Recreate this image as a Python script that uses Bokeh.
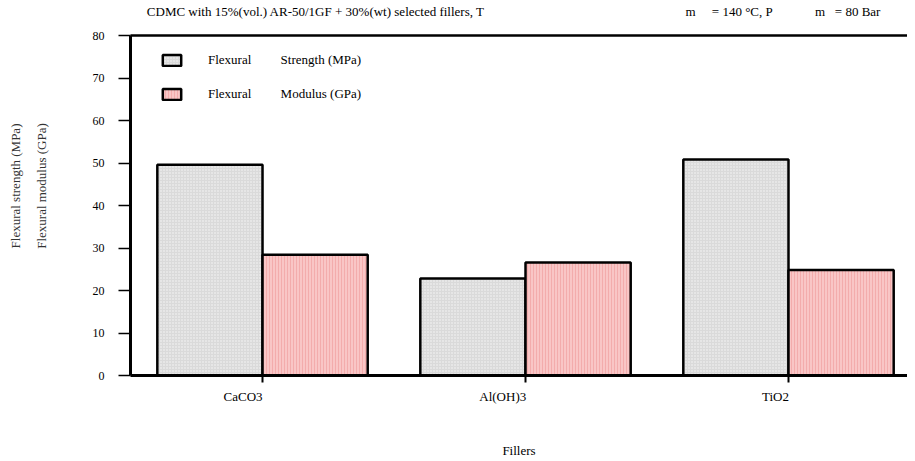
from bokeh.plotting import figure
from bokeh.models import Range1d, FixedTicker, Legend, LegendItem, ColumnDataSource, LinearAxis
from bokeh.transform import dodge
from bokeh.embed import file_html
from bokeh.resources import INLINE

# ---- data ----
fillers = ["CaCO3", "Al(OH)3", "TiO2"]
strength_mpa = [49.6, 22.8, 50.8]
modulus_gpa = [28.4, 26.6, 24.8]
y_ticks = [0, 10, 20, 30, 40, 50, 60, 70, 80]

FONT = "Liberation Serif"
NB = "\u00a0"
pos = list(range(len(fillers)))
src = ColumnDataSource(dict(x=pos, strength=strength_mpa, modulus=modulus_gpa))

p = figure(width=907, height=460, output_backend="svg", toolbar_location=None,
           x_range=Range1d(-0.502, 2.4525), y_range=Range1d(0, 80),
           min_border_left=130, min_border_right=0, min_border_top=35, min_border_bottom=85)
p.grid.visible = False
p.outline_line_color = None
p.background_fill_color = "white"
p.border_fill_color = "white"
xa = p.below[0]
ya = p.left[0]

r1 = p.vbar(x=dodge('x', -0.2), top='strength', width=0.4, source=src,
            fill_color="#dadada", line_color="black", line_width=2.5,
            hatch_pattern="dot", hatch_color="white", hatch_scale=3, hatch_weight=0.7, hatch_alpha=0.8)
r2 = p.vbar(x=dodge('x', 0.2), top='modulus', width=0.4, source=src,
            fill_color="#f9c6c6", line_color="black", line_width=2.5,
            hatch_pattern="vertical_line", hatch_color="#f09e9e", hatch_scale=3, hatch_weight=0.8, hatch_alpha=0.8)

# top border line carrying the chart title
title_text = ("CDMC with 15%(vol.) AR-50/1GF + 30%(wt) selected fillers, T" + NB * 62 + "m" + NB * 5
              + "= 140 \u00b0C, P" + NB * 13 + "m" + NB * 3 + "= 80 Bar" + NB * 3)
top = LinearAxis(ticker=FixedTicker(ticks=[]), axis_label=title_text,
                 axis_line_width=2.5, axis_line_color="black",
                 major_tick_line_color=None, minor_tick_line_color=None,
                 axis_label_standoff=17, axis_label_text_font=FONT,
                 axis_label_text_font_size="13px", axis_label_text_font_style="normal",
                 axis_label_text_color="black")
p.add_layout(top, "above")

# x axis (labels sit to the left of their ticks)
pad = {"CaCO3": 12, "Al(OH)3": 14, "TiO2": 8}
xa.ticker = FixedTicker(ticks=pos)
xa.major_label_overrides = {i: f + NB * pad.get(f, 0) for i, f in zip(pos, fillers)}
xa.axis_line_width = 3
xa.major_tick_out = 7
xa.major_tick_in = 0
xa.major_tick_line_width = 2
xa.minor_tick_line_color = None
xa.major_label_standoff = 6
xa.major_label_text_font = FONT
xa.major_label_text_font_size = "13px"
xa.major_label_text_color = "black"
xa.axis_label = "Fillers"
xa.axis_label_text_font = FONT
xa.axis_label_text_font_style = "normal"
xa.axis_label_text_font_size = "13px"
xa.axis_label_text_color = "black"
xa.axis_label_standoff = 36

# y axis with two-line title
ya.ticker = FixedTicker(ticks=y_ticks)
ya.axis_line_width = 3
ya.major_tick_out = 12
ya.major_tick_in = 0
ya.major_tick_line_width = 1.5
ya.minor_tick_line_color = None
ya.major_label_standoff = 14
ya.major_label_text_font = FONT
ya.major_label_text_font_size = "12px"
ya.major_label_text_color = "black"
ya.axis_label = NB * 12 + "Flexural strength (MPa)\n" + NB * 12 + "Flexural modulus (GPa)"
ya.axis_label_text_line_height = 1.7
ya.axis_label_standoff = 41
ya.axis_label_text_font = FONT
ya.axis_label_text_font_style = "normal"
ya.axis_label_text_font_size = "13px"
ya.axis_label_text_color = "#333333"

nb = NB * 9
legend = Legend(items=[LegendItem(label="Flexural" + nb + "Strength (MPa)", renderers=[r1]),
                       LegendItem(label="Flexural" + nb + "Modulus (GPa)", renderers=[r2])],
                location=(30, 273), padding=0, margin=0, spacing=18,
                glyph_width=23, glyph_height=14, label_height=14, label_standoff=25,
                label_text_font=FONT, label_text_font_size="13px", label_text_color="black",
                border_line_color=None, background_fill_alpha=0)
p.add_layout(legend)

open("out.html", "w").write(file_html(p, INLINE))
